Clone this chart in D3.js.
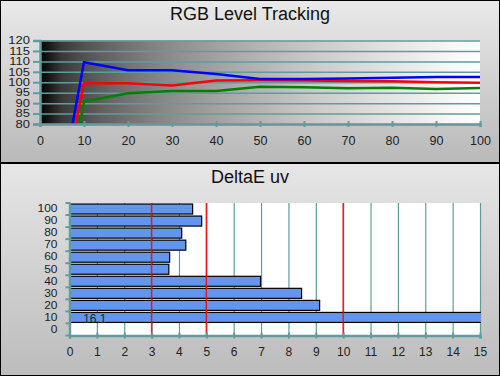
<!DOCTYPE html>
<html>
<head>
<meta charset="utf-8">
<script src="https://cdn.jsdelivr.net/npm/d3@7"></script>
<style>
  body { margin: 0; background: #fff; }
  svg { display: block; font-family: "Liberation Sans", Arial, sans-serif; }
</style>
</head>
<body>
<div id="chart"></div>
<script>

// RGB level tracking data (stimulus level -> relative level)
var levels = [5, 10, 20, 30, 40, 50, 60, 70, 80, 90, 100];
var redLevels   = [48, 99.5, 99.5, 98.4, 100.8, 101, 100.8, 100.6, 100.5, 100, 99.8];
var greenLevels = [31, 90.7, 94.7, 95.8, 95.8, 97.8, 97.6, 97.1, 97.4, 96.8, 97.3];
var blueLevels  = [53, 109.6, 105.8, 105.8, 104, 101.6, 101.5, 101.8, 102.2, 102.5, 102.5];
var rgbYTicks = [80, 85, 90, 95, 100, 105, 110, 115, 120];
var rgbXTicks = [0, 10, 20, 30, 40, 50, 60, 70, 80, 90, 100];

// DeltaE uv per level
var deltaCats = ["0", "10", "20", "30", "40", "50", "60", "70", "80", "90", "100"];
var deltaCatsWithBars = ["10", "20", "30", "40", "50", "60", "70", "80", "90", "100"];
var deltaValues = [16.1, 9.14, 8.48, 6.98, 3.63, 3.66, 4.25, 4.1, 4.83, 4.5];
var deltaXTicks = d3.range(0, 16);
var deltaLimits = [3, 5, 10];

var W = 500, H = 376;
var teal = "#609c9c";

var svg = d3.select("#chart")
    .append("svg")
    .attr("width", W)
    .attr("height", H);

var defs = svg.append("defs");

// panel backgrounds
function panelGrad(id, c1, c2) {
    var g = defs.append("linearGradient").attr("id", id)
        .attr("x1", 0).attr("y1", 0).attr("x2", 0).attr("y2", 1);
    g.append("stop").attr("offset", "0%").attr("stop-color", c1);
    g.append("stop").attr("offset", "100%").attr("stop-color", c2);
}
panelGrad("panelTop", "#e9e9e9", "#b9b9b9");
panelGrad("panelBot", "#e6e6e6", "#bcbcbc");

// black -> white ramp behind the RGB plot
var ramp = defs.append("linearGradient").attr("id", "ramp")
    .attr("x1", 0).attr("y1", 0).attr("x2", 1).attr("y2", 0);
d3.range(0, 1.0001, 0.05).forEach(function(t) {
    var v = Math.round(255 * Math.pow(t, 0.5));
    ramp.append("stop").attr("offset", (t * 100) + "%").attr("stop-color", d3.rgb(v, v, v));
});

svg.append("rect")
    .attr("x", 0.5).attr("y", 0.5).attr("width", W - 1).attr("height", 162)
    .style("fill", "url(#panelTop)").style("stroke", "#000");
svg.append("rect")
    .attr("x", 0.5).attr("y", 163.5).attr("width", W - 1).attr("height", H - 164)
    .style("fill", "url(#panelBot)").style("stroke", "#000");

/*
Top chart - RGB Level Tracking
 */

var x1 = d3.scaleLinear().domain([0, 100]).range([40, 480]);
var y1 = d3.scaleLinear().domain([80, 120]).range([124, 40.5]);

svg.append("text")
    .attr("x", 250).attr("y", 20)
    .attr("text-anchor", "middle")
    .style("font-size", "18px").style("fill", "#111")
    .text("RGB Level Tracking");

svg.append("rect")
    .attr("x", x1(0)).attr("y", y1(120))
    .attr("width", x1(100) - x1(0)).attr("height", y1(80) - y1(120))
    .style("fill", "url(#ramp)");

// horizontal grid
svg.append("g")
    .attr("transform", "translate(" + x1(0) + ",0)")
    .call(d3.axisLeft(y1).tickValues(rgbYTicks).tickSize(-(x1(100) - x1(0))).tickFormat(""))
    .call(function(g) { g.select(".domain").remove(); })
    .selectAll("line").style("stroke", teal).style("stroke-width", 1.5);

defs.append("clipPath").attr("id", "clipTop")
    .append("rect")
    .attr("x", x1(0)).attr("y", y1(120))
    .attr("width", x1(100) - x1(0)).attr("height", y1(80) - y1(120));

var line = d3.line()
    .x(function(d, i) { return x1(levels[i]); })
    .y(function(d) { return y1(d); });

var series = [
    { values: greenLevels, color: "#008000" },
    { values: redLevels, color: "#ff0000" },
    { values: blueLevels, color: "#0000ff" }
];

svg.append("g").attr("clip-path", "url(#clipTop)")
    .selectAll("path")
    .data(series)
    .enter()
    .append("path")
    .attr("d", function(d) { return line(d.values); })
    .style("fill", "none")
    .style("stroke", function(d) { return d.color; })
    .style("stroke-width", 2.5);

// axes
var yAxis1 = svg.append("g")
    .attr("transform", "translate(" + x1(0) + ",0)")
    .call(d3.axisLeft(y1).tickValues(rgbYTicks).tickSize(7).tickPadding(3));

var xAxis1 = svg.append("g")
    .attr("transform", "translate(0," + y1(80) + ")")
    .call(d3.axisBottom(x1).tickValues(rgbXTicks).tickSize(3).tickPadding(9));
xAxis1.selectAll(".tick line").attr("y1", -3);

[yAxis1, xAxis1].forEach(function(a) {
    a.select(".domain").style("stroke", teal).style("stroke-width", 2.5);
    a.selectAll(".tick line").style("stroke", teal).style("stroke-width", 2);
    a.selectAll("text")
        .style("font-family", "Liberation Sans, Arial, sans-serif")
        .style("font-size", "12.5px").style("fill", "#222");
});
// labels are tightly packed: squash them a bit vertically like the original
yAxis1.selectAll("text")
    .style("font-size", "13px")
    .attr("transform", "scale(1,0.78)");

/*
Bottom chart - DeltaE uv
 */

var x2 = d3.scaleLinear().domain([0, 15]).range([69.5, 480]);
var y2 = d3.scaleBand().domain(deltaCats).range([335.5, 203]);
var barH = 10;

svg.append("text")
    .attr("x", 250).attr("y", 183)
    .attr("text-anchor", "middle")
    .style("font-size", "18px").style("fill", "#111")
    .text("DeltaE uv");

svg.append("rect")
    .attr("x", x2(0)).attr("y", 203)
    .attr("width", x2(15) - x2(0)).attr("height", 335.5 - 203)
    .style("fill", "#fff");

// vertical grid
svg.append("g")
    .attr("transform", "translate(0,203)")
    .call(d3.axisBottom(x2).tickValues(deltaXTicks).tickSize(335.5 - 203).tickFormat(""))
    .call(function(g) { g.select(".domain").remove(); })
    .selectAll("line").style("stroke", teal).style("stroke-width", 1.2);

defs.append("clipPath").attr("id", "clipBot")
    .append("rect")
    .attr("x", x2(0)).attr("y", 200)
    .attr("width", x2(15) - x2(0) + 1).attr("height", 140);

svg.append("g").attr("clip-path", "url(#clipBot)")
    .selectAll("rect")
    .data(deltaValues)
    .enter()
    .append("rect")
    .attr("x", x2(0))
    .attr("y", function(d, i) { return y2(deltaCatsWithBars[i]) + (y2.bandwidth() - barH) / 2; })
    .attr("width", function(d) { return x2(Math.min(d, 15.2)) - x2(0); })
    .attr("height", barH)
    .style("fill", "#6495ed")
    .style("stroke", "#000")
    .style("stroke-width", 1.2);

// value label for off-scale bars
svg.selectAll(".offscale")
    .data(deltaValues.filter(function(d) { return d > 15; }))
    .enter()
    .append("text")
    .attr("class", "offscale")
    .attr("x", x2(0.5))
    .attr("y", function(d) {
        var i = deltaValues.indexOf(d);
        return y2(deltaCatsWithBars[i]) + y2.bandwidth() - 0.5;
    })
    .style("font-size", "12px").style("fill", "#222")
    .text(function(d) { return d; });

// reference limits
svg.selectAll(".limit")
    .data(deltaLimits)
    .enter()
    .append("line")
    .attr("class", "limit")
    .attr("x1", function(d) { return x2(d); })
    .attr("x2", function(d) { return x2(d); })
    .attr("y1", 203).attr("y2", 335.5)
    .style("stroke", "#ff0000")
    .style("stroke-opacity", 0.85)
    .style("stroke-width", 1.5);

var yAxis2 = svg.append("g")
    .attr("transform", "translate(" + x2(0) + ",0)")
    .call(d3.axisLeft(y2).tickSize(0).tickPadding(12));

// tick marks at band edges
yAxis2.selectAll(".edge")
    .data(deltaCats.concat(["top"]))
    .enter()
    .append("line")
    .attr("class", "edge")
    .attr("x1", -4).attr("x2", 1)
    .attr("y1", function(d) { return d === "top" ? 203 : y2(d) + y2.bandwidth(); })
    .attr("y2", function(d) { return d === "top" ? 203 : y2(d) + y2.bandwidth(); })
    .style("stroke", teal).style("stroke-width", 2);

var xAxis2 = svg.append("g")
    .attr("transform", "translate(0,335.5)")
    .call(d3.axisBottom(x2).tickValues(deltaXTicks).tickSize(3).tickPadding(9));
xAxis2.selectAll(".tick line").attr("y1", -3);

[yAxis2, xAxis2].forEach(function(a) {
    a.select(".domain").style("stroke", teal).style("stroke-width", 2.5);
    a.selectAll(".tick line").style("stroke", teal).style("stroke-width", 2);
    a.selectAll("text")
        .style("font-family", "Liberation Sans, Arial, sans-serif")
        .style("font-size", "12px").style("fill", "#222");
});
yAxis2.selectAll("text").attr("transform", "scale(1,0.85)");

</script>
</body>
</html>
